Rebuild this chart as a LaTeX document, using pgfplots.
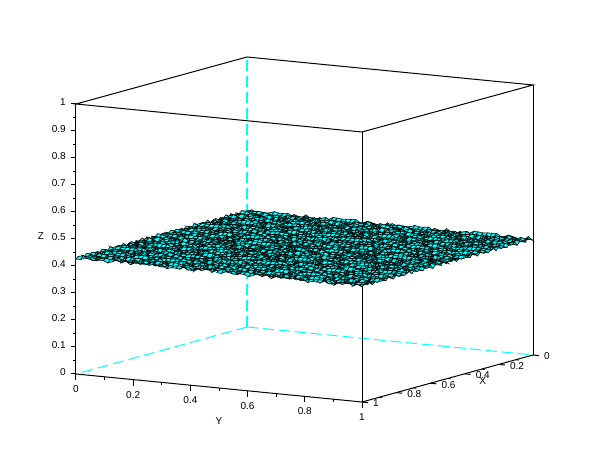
\documentclass[border=0pt]{standalone}
\usepackage{pgfplots}
\usepackage{pgfplotstable}
\usepackage{fontspec}
\setmainfont{Liberation Sans}
\pgfplotsset{compat=1.18}
\pgfplotstableread[header=false]{
0.431
0.426
0.436
0.428
0.433
0.424
0.435
0.429
0.437
0.427
0.432
0.425
0.434
0.43
0.423
0.436
0.428
0.433
0.426
0.431
0.437
0.424
0.429
0.435
0.427
0.432
0.423
0.434
0.43
0.436
0.425
0.428
0.433
0.426
0.435
0.43
0.435
0.428
0.424
0.434
0.43
0.437
0.426
0.432
0.423
0.435
0.429
0.427
0.436
0.424
0.431
0.433
0.425
0.437
0.428
0.43
0.423
0.435
0.432
0.426
0.429
0.436
0.424
0.434
0.427
0.431
0.437
0.425
0.43
0.433
0.428
0.424
0.427
0.433
0.437
0.43
0.425
0.429
0.434
0.423
0.436
0.431
0.426
0.433
0.428
0.437
0.424
0.435
0.43
0.427
0.434
0.423
0.432
0.436
0.426
0.429
0.435
0.425
0.431
0.437
0.428
0.433
0.424
0.436
0.43
0.426
0.435
0.431
0.436
0.423
0.428
0.434
0.426
0.437
0.43
0.425
0.433
0.427
0.435
0.424
0.431
0.436
0.429
0.423
0.434
0.427
0.432
0.437
0.425
0.43
0.435
0.428
0.433
0.426
0.424
0.436
0.429
0.434
0.427
0.431
0.428
0.425
0.432
0.436
0.43
0.423
0.435
0.427
0.433
0.437
0.426
0.429
0.424
0.434
0.431
0.436
0.428
0.425
0.433
0.43
0.437
0.423
0.427
0.435
0.432
0.426
0.429
0.434
0.424
0.436
0.431
0.428
0.437
0.425
0.433
0.426
0.437
0.424
0.429
0.435
0.431
0.427
0.433
0.423
0.436
0.428
0.43
0.425
0.434
0.437
0.426
0.432
0.424
0.429
0.435
0.427
0.436
0.431
0.423
0.433
0.428
0.425
0.434
0.43
0.437
0.426
0.432
0.424
0.429
0.435
0.427
0.433
0.435
0.429
0.423
0.431
0.437
0.426
0.434
0.428
0.424
0.432
0.436
0.425
0.43
0.433
0.427
0.423
0.435
0.429
0.437
0.431
0.426
0.434
0.424
0.428
0.436
0.43
0.433
0.425
0.427
0.432
0.437
0.423
0.429
0.434
0.426
0.431
0.424
0.432
0.436
0.427
0.43
0.434
0.425
0.437
0.429
0.423
0.433
0.426
0.435
0.431
0.428
0.424
0.436
0.43
0.433
0.427
0.437
0.425
0.432
0.423
0.434
0.429
0.426
0.435
0.431
0.424
0.428
0.437
0.43
0.433
0.425
0.436
0.437
0.428
0.431
0.424
0.435
0.427
0.429
0.433
0.426
0.436
0.423
0.43
0.434
0.428
0.425
0.437
0.431
0.427
0.424
0.435
0.432
0.429
0.436
0.426
0.423
0.433
0.43
0.434
0.427
0.425
0.437
0.431
0.428
0.435
0.424
0.43
0.426
0.433
0.43
0.437
0.423
0.432
0.436
0.425
0.428
0.434
0.43
0.427
0.435
0.424
0.431
0.436
0.426
0.433
0.429
0.437
0.425
0.43
0.434
0.423
0.428
0.435
0.427
0.432
0.436
0.424
0.431
0.426
0.433
0.437
0.429
0.425
0.429
0.435
0.425
0.432
0.428
0.423
0.436
0.431
0.427
0.433
0.437
0.424
0.43
0.435
0.426
0.429
0.434
0.428
0.423
0.436
0.431
0.425
0.433
0.427
0.437
0.43
0.424
0.432
0.429
0.435
0.426
0.428
0.434
0.423
0.431
0.436
0.434
0.423
0.428
0.436
0.431
0.426
0.433
0.424
0.437
0.43
0.427
0.435
0.432
0.425
0.429
0.436
0.423
0.431
0.434
0.426
0.428
0.437
0.424
0.433
0.43
0.435
0.427
0.431
0.425
0.436
0.429
0.433
0.426
0.437
0.43
0.424
0.427
0.431
0.437
0.425
0.434
0.429
0.435
0.423
0.43
0.436
0.426
0.433
0.428
0.424
0.437
0.431
0.426
0.435
0.43
0.427
0.433
0.423
0.436
0.428
0.425
0.434
0.431
0.437
0.424
0.429
0.435
0.426
0.432
0.423
0.436
0.428
0.436
0.43
0.424
0.433
0.427
0.437
0.431
0.426
0.435
0.423
0.429
0.434
0.425
0.432
0.436
0.428
0.43
0.424
0.437
0.433
0.427
0.435
0.431
0.423
0.426
0.436
0.429
0.434
0.425
0.43
0.437
0.428
0.433
0.424
0.431
0.435
0.423
0.433
0.429
0.426
0.436
0.432
0.425
0.437
0.428
0.434
0.424
0.431
0.427
0.436
0.43
0.423
0.435
0.433
0.426
0.429
0.437
0.425
0.431
0.424
0.434
0.428
0.436
0.43
0.427
0.433
0.423
0.435
0.429
0.426
0.437
0.432
0.432
0.437
0.426
0.43
0.423
0.434
0.428
0.435
0.431
0.424
0.436
0.427
0.433
0.429
0.425
0.437
0.431
0.424
0.434
0.428
0.423
0.436
0.43
0.426
0.435
0.433
0.425
0.429
0.437
0.431
0.424
0.427
0.434
0.43
0.436
0.423
0.427
0.431
0.435
0.424
0.437
0.429
0.426
0.433
0.43
0.436
0.423
0.432
0.428
0.434
0.425
0.43
0.436
0.427
0.433
0.424
0.435
0.431
0.426
0.437
0.428
0.423
0.434
0.43
0.425
0.436
0.432
0.429
0.435
0.426
0.433
0.428
0.436
0.425
0.43
0.434
0.428
0.437
0.423
0.431
0.435
0.427
0.424
0.433
0.429
0.436
0.426
0.431
0.423
0.435
0.428
0.437
0.43
0.425
0.433
0.427
0.436
0.424
0.431
0.434
0.429
0.426
0.437
0.423
0.43
0.435
0.428
0.433
0.424
0.431
0.437
0.426
0.429
0.433
0.423
0.435
0.431
0.425
0.436
0.428
0.43
0.434
0.424
0.437
0.427
0.432
0.426
0.435
0.429
0.423
0.436
0.43
0.433
0.425
0.428
0.437
0.431
0.424
0.434
0.427
0.435
0.43
0.426
0.433
0.436
0.43
0.426
0.434
0.428
0.423
0.437
0.431
0.425
0.433
0.429
0.436
0.424
0.43
0.435
0.427
0.432
0.437
0.426
0.423
0.434
0.428
0.431
0.436
0.425
0.433
0.43
0.424
0.435
0.429
0.437
0.427
0.432
0.423
0.434
0.426
0.428
0.435
0.423
0.431
0.437
0.426
0.433
0.429
0.424
0.436
0.43
0.427
0.434
0.425
0.431
0.437
0.423
0.429
0.435
0.428
0.433
0.426
0.436
0.43
0.424
0.432
0.437
0.427
0.434
0.423
0.431
0.428
0.436
0.425
0.433
0.43
0.435
0.424
0.43
0.436
0.427
0.432
0.435
0.425
0.431
0.423
0.437
0.428
0.433
0.426
0.434
0.43
0.424
0.436
0.429
0.425
0.433
0.431
0.437
0.423
0.427
0.435
0.43
0.426
0.434
0.428
0.436
0.424
0.432
0.429
0.437
0.425
0.431
0.433
0.437
0.428
0.423
0.431
0.426
0.434
0.43
0.436
0.424
0.429
0.435
0.427
0.433
0.423
0.437
0.431
0.425
0.428
0.436
0.43
0.434
0.426
0.424
0.435
0.432
0.427
0.437
0.429
0.423
0.433
0.43
0.436
0.425
0.431
0.428
0.434
0.426
0.431
0.435
0.424
0.429
0.436
0.427
0.433
0.423
0.43
0.437
0.425
0.432
0.428
0.435
0.426
0.431
0.434
0.424
0.436
0.429
0.433
0.423
0.437
0.427
0.43
0.435
0.425
0.431
0.428
0.436
0.424
0.433
0.426
0.434
0.43
0.437
0.425
0.434
0.427
0.437
0.431
0.423
0.435
0.428
0.426
0.433
0.43
0.436
0.424
0.429
0.434
0.425
0.437
0.431
0.427
0.423
0.435
0.43
0.426
0.433
0.428
0.436
0.424
0.431
0.437
0.425
0.429
0.434
0.423
0.432
0.435
0.427
0.43
0.433
0.436
0.429
0.424
0.432
0.426
0.437
0.43
0.423
0.435
0.431
0.428
0.433
0.425
0.436
0.427
0.43
0.424
0.434
0.437
0.429
0.426
0.432
0.423
0.435
0.431
0.428
0.425
0.436
0.433
0.43
0.424
0.437
0.427
0.434
0.426
0.431
0.423
0.429
0.427
0.433
0.423
0.436
0.43
0.425
0.434
0.428
0.437
0.424
0.431
0.426
0.435
0.429
0.433
0.423
0.436
0.43
0.427
0.434
0.425
0.437
0.431
0.424
0.428
0.435
0.426
0.433
0.43
0.436
0.423
0.429
0.434
0.427
0.432
0.437
0.43
0.425
0.435
0.428
0.431
0.424
0.437
0.426
0.433
0.43
0.436
0.423
0.429
0.434
0.427
0.431
0.425
0.435
0.424
0.437
0.428
0.43
0.433
0.426
0.436
0.423
0.431
0.435
0.429
0.425
0.434
0.427
0.436
0.424
0.43
0.433
0.426
0.424
0.431
0.436
0.428
0.433
0.425
0.43
0.437
0.423
0.434
0.427
0.431
0.435
0.426
0.429
0.424
0.436
0.432
0.437
0.425
0.43
0.433
0.428
0.423
0.435
0.431
0.426
0.434
0.429
0.437
0.424
0.43
0.436
0.427
0.433
0.425
0.434
0.428
0.423
0.435
0.431
0.426
0.437
0.43
0.424
0.433
0.429
0.436
0.425
0.431
0.427
0.435
0.423
0.434
0.428
0.43
0.437
0.426
0.433
0.424
0.436
0.431
0.425
0.429
0.435
0.427
0.432
0.423
0.437
0.43
0.426
0.434
0.428
0.436
0.428
0.435
0.424
0.431
0.437
0.426
0.43
0.434
0.423
0.436
0.429
0.433
0.425
0.431
0.427
0.437
0.424
0.435
0.43
0.426
0.433
0.428
0.436
0.423
0.431
0.434
0.425
0.429
0.437
0.427
0.432
0.424
0.435
0.43
0.433
0.426
}\zdata
\newcommand\tile[2]{\addplot3[surf,shader=faceted,faceted color=black,line width=0.55pt,
  mesh/rows=33,mesh/cols=34,point meta=z]
  table[x index=0,y index=0,x expr={(mod(\coordindex,34)+32*#1)/65},y expr={(floor((\coordindex+0.5)/34)+31*#2)/63},z index=0] {\zdata};}
\begin{document}
\begin{tikzpicture}
\useasboundingbox (0,0) rectangle (610pt,460pt);
\begin{axis}[
  at={(247pt,133pt)},anchor=origin,
  disabledatascaling,
  x={(-171pt,-47pt)},y={(286pt,-28pt)},z={(0pt,270pt)},
  xmin=0,xmax=1,ymin=0,ymax=1,zmin=0,zmax=1,
  hide axis,clip=false,
  colormap={cy}{rgb255=(0,255,255) rgb255=(0,255,255)},
]
\tikzset{ln/.style={black,line width=1pt},
  cd/.style={draw={rgb,255:red,0;green,255;blue,255},line width=1pt,dash pattern=on 11pt off 5pt},
  lb/.style={font=\fontsize{10}{12}\selectfont,inner sep=0pt}}
% hidden edges
\draw[cd,line width=1.5pt] (axis cs:0,0,0) -- (axis cs:0,0,1);
\draw[cd] (axis cs:0,0,0) -- (axis cs:1,0,0);
\draw[cd] (axis cs:0,0,0) -- (axis cs:0,1,0);
% front vertical (behind the surface)
\draw[ln] (axis cs:1,1,0) -- (axis cs:1,1,1);
\tile{0}{0}\tile{1}{0}
\tile{0}{1}\tile{1}{1}
% top edges
\draw[ln] (axis cs:0,0,1) -- (axis cs:1,0,1) -- (axis cs:1,1,1) -- (axis cs:0,1,1) -- cycle;
% visible axes
\draw[ln] (axis cs:1,0,0) -- (axis cs:1,0,1);
\draw[ln] (axis cs:0,1,0) -- (axis cs:0,1,1);
\draw[ln] (axis cs:1,0,0) -- (axis cs:1,1,0) -- (axis cs:0,1,0);
% Z axis
\pgfplotsinvokeforeach{0,0.1,0.2,0.3,0.4,0.5,0.6,0.7,0.8,0.9,1}{
  \draw[ln] (axis cs:1,0,#1) -- ++(-5pt,0pt);
  \node[lb,anchor=east] at ([xshift=-10pt,yshift=1.5pt]axis cs:1,0,#1) {#1};}
\pgfplotsinvokeforeach{0.05,0.15,0.25,0.35,0.45,0.55,0.65,0.75,0.85,0.95}{
  \draw[ln] (axis cs:1,0,#1) -- ++(-3pt,0pt);}
% Y axis
\pgfplotsinvokeforeach{0,0.2,0.4,0.6,0.8,1}{
  \draw[ln] (axis cs:1,#1,0) -- ++(0pt,-6pt);
  \node[lb] at ([yshift=-15pt]axis cs:1,#1,0) {#1};}
\pgfplotsinvokeforeach{0.1,0.3,0.5,0.7,0.9}{
  \draw[ln] (axis cs:1,#1,0) -- ++(0pt,-3pt);}
% X axis
\pgfplotsinvokeforeach{0,0.2,0.4,0.6,0.8,1}{
  \draw[ln] (axis cs:#1,1,0) -- ++(6pt,-0.6pt);
  \node[lb,anchor=west] at ([xshift=11pt,yshift=-1.5pt]axis cs:#1,1,0) {#1};}
\pgfplotsinvokeforeach{0.1,0.3,0.5,0.7,0.9}{
  \draw[ln] (axis cs:#1,1,0) -- ++(3pt,-0.3pt);}
% axis names
\node[lb] at ([yshift=-33pt]axis cs:1,0.5,0) {Y};
\node[lb] at ([xshift=18pt,yshift=-7.5pt]axis cs:0.4,1,0) {X};
\node[lb] at ([xshift=-35pt,yshift=3pt]axis cs:1,0,0.5) {Z};
\end{axis}
\end{tikzpicture}
\end{document}
